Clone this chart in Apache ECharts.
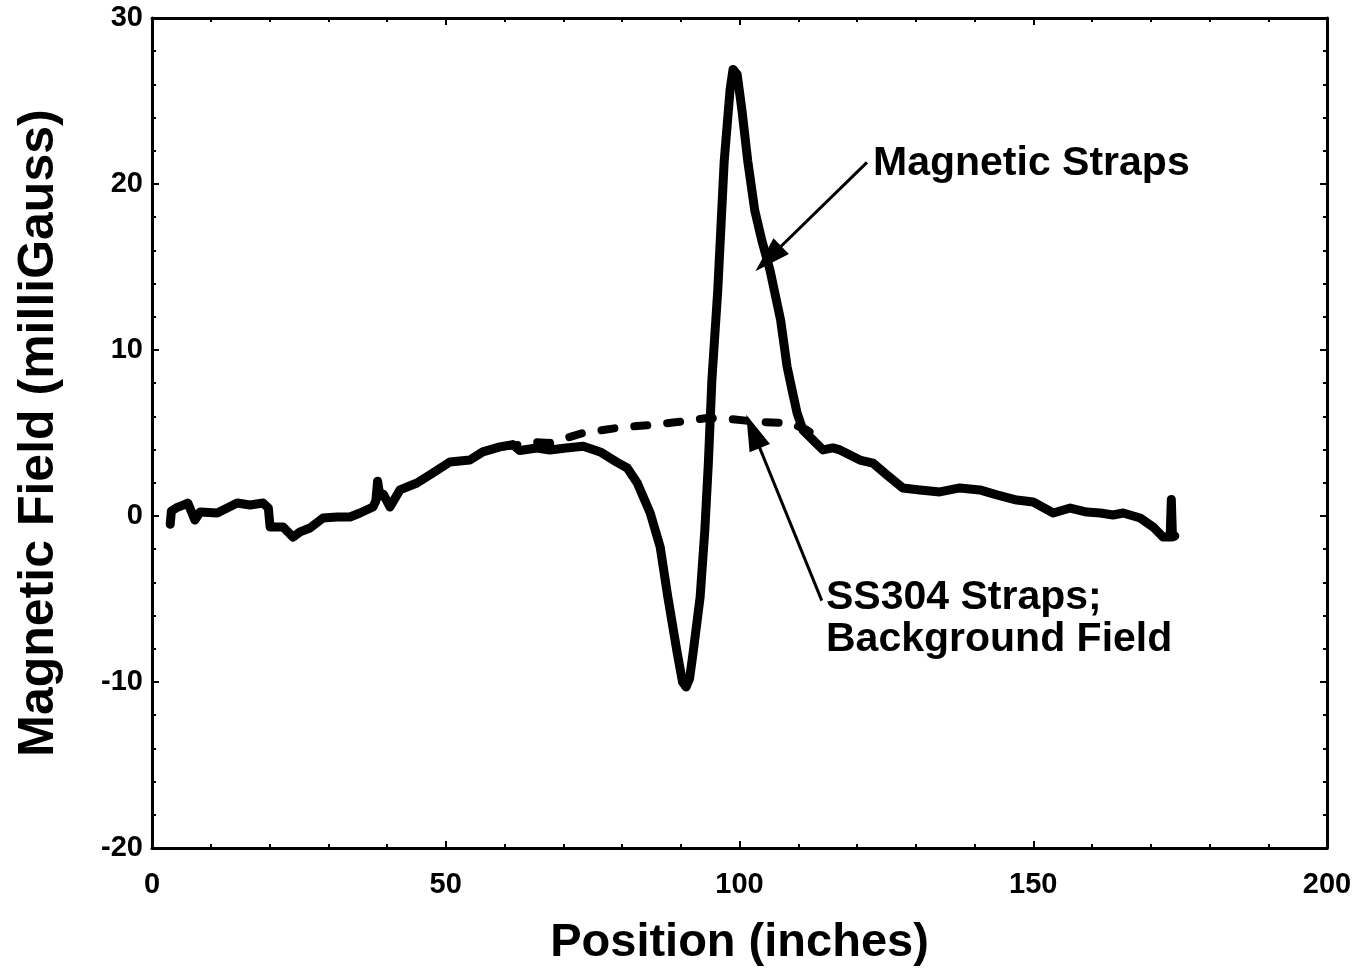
<!DOCTYPE html>
<html>
<head>
<meta charset="utf-8">
<script src="https://cdn.jsdelivr.net/npm/echarts@6/dist/echarts.min.js"></script>
<style>
html,body{margin:0;padding:0;background:#fff;}
#chart{width:1357px;height:974px;}
</style>
</head>
<body>
<div id="chart"></div>
<script>
// Magnetic Straps (solid)
var strapsPos = [3.1,3.3,4.2,5.3,6.1,7.3,8.2,11.1,12.8,14.5,16.7,18.9,19.8,20.1,22.3,24.0,25.2,26.9,29.1,31.5,33.7,35.4,37.6,38.1,38.4,38.8,39.4,40.5,42.2,45.1,47.8,50.7,54.1,56.3,59.2,61.4,62.6,65.5,67.7,70.5,73.4,76.3,79.1,80.9,82.6,84.8,86.5,87.8,89.4,90.3,90.9,91.5,92.1,93.3,94.1,94.7,95.3,96.3,97.4,98.4,98.9,99.6,100.4,101.4,102.6,103.8,105.2,107.0,108.1,109.0,109.8,110.8,112.5,114.2,115.9,117.1,118.8,120.5,122.7,125.1,127.8,130.7,134.1,137.5,140.9,143.8,147.2,150.0,153.4,156.3,159.1,161.4,163.6,165.3,168.2,170.4,172.1,173.3,173.5,173.7,174.1];
var strapsField = [-0.5,0.3,0.5,0.66,0.78,-0.24,0.24,0.18,0.48,0.78,0.66,0.78,0.48,-0.66,-0.66,-1.27,-0.96,-0.72,-0.12,-0.06,-0.06,0.18,0.54,0.9,2.1,1.2,1.3,0.54,1.57,1.99,2.59,3.25,3.37,3.86,4.16,4.3,3.95,4.1,3.98,4.1,4.2,3.86,3.25,2.89,1.99,0.18,-1.87,-4.88,-8.25,-10.0,-10.3,-9.8,-8.25,-4.88,-0.84,3.19,8.19,13.6,21.4,25.7,26.9,26.6,24.5,21.4,18.4,16.6,14.8,11.8,9.0,7.5,6.2,5.18,4.58,3.98,4.1,3.98,3.67,3.37,3.19,2.47,1.69,1.57,1.45,1.69,1.57,1.27,0.96,0.84,0.18,0.48,0.24,0.18,0.06,0.18,-0.12,-0.66,-1.27,-1.27,1.0,-1.27,-1.2];
// SS304 Straps; Background Field (dashed, where it departs from the solid curve)
var bgPos = [60,63,65.5,67.7,70.5,73.4,76.3,79.1,82,84.8,89.4,94.5,98.4,103.5,108.6,111.5,113.2];
var bgField = [4.2,4.3,4.45,4.4,4.7,5.0,5.15,5.3,5.4,5.48,5.66,5.9,5.84,5.66,5.6,5.18,4.7];
// Axis ticks
var xTicks = [0,50,100,150,200];
var yTicks = [-20,-10,0,10,20,30];
// Annotations
var annStraps = {text:'Magnetic Straps', tail:[121.7,21.3], tip:[104.9,15.5]};
var annBg = {text:'SS304 Straps;\nBackground Field', tail:[114.0,-5.1], tip:[102.3,5.1]};

function zip(a,b){return a.map(function(v,i){return [v,b[i]];});}

var chart = echarts.init(document.getElementById('chart'));
var F = '"Liberation Sans", Arial, Helvetica, sans-serif';
var axisCommon = {
  axisLine:{show:true,onZero:false,lineStyle:{color:'#000',width:3}},
  axisTick:{show:true,inside:true,length:7,lineStyle:{color:'#000',width:2}},
  minorTick:{show:true,splitNumber:5,length:4,lineStyle:{color:'#000',width:2}},
  splitLine:{show:false}
};
function arrowLine(a){
  return [{coord:a.tail,symbol:'none'},{coord:a.tip,symbol:'triangle'}];
}
chart.setOption({
  backgroundColor:'#fff',
  animation:false,
  grid:{left:152,top:18,right:30,bottom:126},
  xAxis:[
    Object.assign({type:'value',min:xTicks[0],max:xTicks[xTicks.length-1],interval:50,position:'bottom',
      name:'Position (inches)',nameLocation:'middle',nameGap:72,
      nameTextStyle:{fontFamily:F,fontWeight:'bold',fontSize:47,color:'#000'},
      axisLabel:{fontFamily:F,fontWeight:'bold',fontSize:29,color:'#000',margin:22}},axisCommon),
    Object.assign({type:'value',min:xTicks[0],max:xTicks[xTicks.length-1],interval:50,position:'top',
      axisLabel:{show:false}},axisCommon)
  ],
  yAxis:[
    Object.assign({type:'value',min:yTicks[0],max:yTicks[yTicks.length-1],interval:10,position:'left',
      name:'Magnetic Field (milliGauss)',nameLocation:'middle',nameGap:88,
      nameTextStyle:{fontFamily:F,fontWeight:'bold',fontSize:50,color:'#000'},
      axisLabel:{fontFamily:F,fontWeight:'bold',fontSize:29,color:'#000',margin:9}},axisCommon),
    Object.assign({type:'value',min:yTicks[0],max:yTicks[yTicks.length-1],interval:10,position:'right',
      axisLabel:{show:false}},axisCommon)
  ],
  series:[
    {type:'line',name:'SS304 Straps; Background Field',data:zip(bgPos,bgField),showSymbol:false,
      lineStyle:{color:'#000',width:8,type:[13,20],cap:'round'},z:2},
    {type:'line',name:'Magnetic Straps',data:zip(strapsPos,strapsField),showSymbol:false,
      lineStyle:{color:'#000',width:9,join:'round',cap:'round'},z:3,
      markLine:{silent:true,animation:false,symbolSize:[22,36],
        lineStyle:{color:'#000',width:3,type:'solid'},label:{show:false},
        data:[arrowLine(annStraps),arrowLine(annBg)]}}
  ],
  graphic:[
    {type:'text',left:873,top:143,style:{text:annStraps.text,font:'bold 41px '+F,fill:'#000'}},
    {type:'text',left:826,top:577,style:{text:annBg.text,font:'bold 41px '+F,fill:'#000',lineHeight:42}}
  ]
});
</script>
</body>
</html>
